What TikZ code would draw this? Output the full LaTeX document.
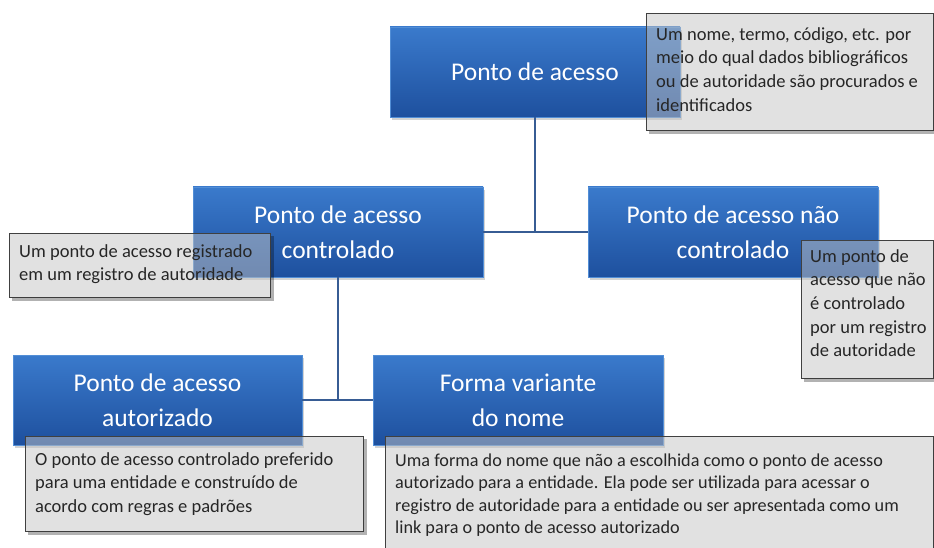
\documentclass[tikz,border=0pt]{standalone}
\usepackage{fontspec}
\setmainfont{Carlito}
\usetikzlibrary{shadows}
\definecolor{boxtop}{RGB}{58,122,204}
\definecolor{boxbot}{RGB}{30,80,158}
\definecolor{boxedge}{RGB}{82,142,214}
\definecolor{linkcol}{RGB}{55,92,148}
\definecolor{notefill}{RGB}{196,196,196}
\definecolor{noteedge}{RGB}{64,64,64}
\definecolor{notetextcol}{RGB}{38,38,38}
\newcommand\noteshade[1]{\fill[black,opacity=0.3]
  ([shift={(0,3)}]#1.north east) -- ([shift={(3,3)}]#1.north east) --
  ([shift={(3,3)}]#1.south east) -- ([shift={(3,3)}]#1.south west) --
  ([shift={(3,0)}]#1.south west) -- (#1.south east) -- cycle;}
\begin{document}
\begin{tikzpicture}[x=1pt,y=-1pt,
  bluebox/.style={rectangle, minimum width=290pt, minimum height=90pt, inner sep=0pt,
    top color=boxtop, bottom color=boxbot, draw=boxedge, line width=0.6pt,
    text=white, align=center, font=\fontsize{25.5}{35}\selectfont,
    drop shadow={shadow xshift=2pt, shadow yshift=-3pt, opacity=0.35}},
  noteframe/.style={rectangle, anchor=north west, inner sep=0pt, fill=notefill,
    fill opacity=0.5, draw=noteedge, draw opacity=1, line width=0.8pt},
  notetext/.style={anchor=north west, inner sep=0pt, align=left, text=notetextcol,
    font=\fontsize{18.5}{23.7}\selectfont},
  link/.style={draw=linkcol, line width=2pt}]
\useasboundingbox (0,0) rectangle (934,548);
\clip (0,0) rectangle (934,548);

% blue boxes
\node[bluebox] (b1) at (535,72) {Ponto de acesso};
\node[bluebox] (b2) at (338,232) {Ponto de acesso\\controlado};
\node[bluebox] (b3) at (733,232) {Ponto de acesso não\\controlado};
\node[bluebox, minimum width=289pt] (b4) at (157.5,400) {Ponto de acesso\\autorizado};
\node[bluebox] (b5) at (518,400) {Forma variante\\do nome};

% connectors
\coordinate (j1) at (b1.south |- b2.east);
\coordinate (j2) at (b2.south |- b4.east);
\draw[link] (b1.south) -- (j1);
\draw[link] (b2.east) -- (b3.west);
\draw[link] (b2.south) -- (j2);
\draw[link] (b4.east) -- (b5.west);

% callout frames
\node[noteframe, minimum width=287pt, minimum height=117pt] (n1) at (646,13) {};
\node[noteframe, minimum width=261pt, minimum height=64pt] (n2) at (9,233) {};
\node[noteframe, minimum width=132pt, minimum height=138pt] (n3) at (801,240) {};
\node[noteframe, minimum width=338pt, minimum height=95pt] (n4) at (25,436) {};
\node[noteframe, minimum width=548pt, minimum height=125pt] (n5) at (385,436) {};
\noteshade{n1}
\noteshade{n2}
\noteshade{n3}
\noteshade{n4}
\noteshade{n5}

% callout texts
\node[notetext] (t1) at (656,23.4) {\strut Um nome, termo, código, etc. por\\meio do qual dados bibliográficos\\ou de autoridade são procurados e\\identificados};
\node[notetext] (t2) at (19,240.4) {\strut Um ponto de acesso registrado\\em um registro de autoridade};
\node[notetext] (t3) at (810,245.4) {\strut Um ponto de\\acesso que não\\é controlado\\por um registro\\de autoridade};
\node[notetext] (t4) at (35,448.4) {\strut O ponto de acesso controlado preferido\\para uma entidade e construído de\\acordo com regras e padrões};
\node[notetext, font=\fontsize{18.2}{22.5}\selectfont] (t5) at (395,450.25) {\strut Uma forma do nome que não a escolhida como o ponto de acesso\\autorizado para a entidade. Ela pode ser utilizada para acessar o\\registro de autoridade para a entidade ou ser apresentada como um\\link para o ponto de acesso autorizado};
\end{tikzpicture}
\end{document}
